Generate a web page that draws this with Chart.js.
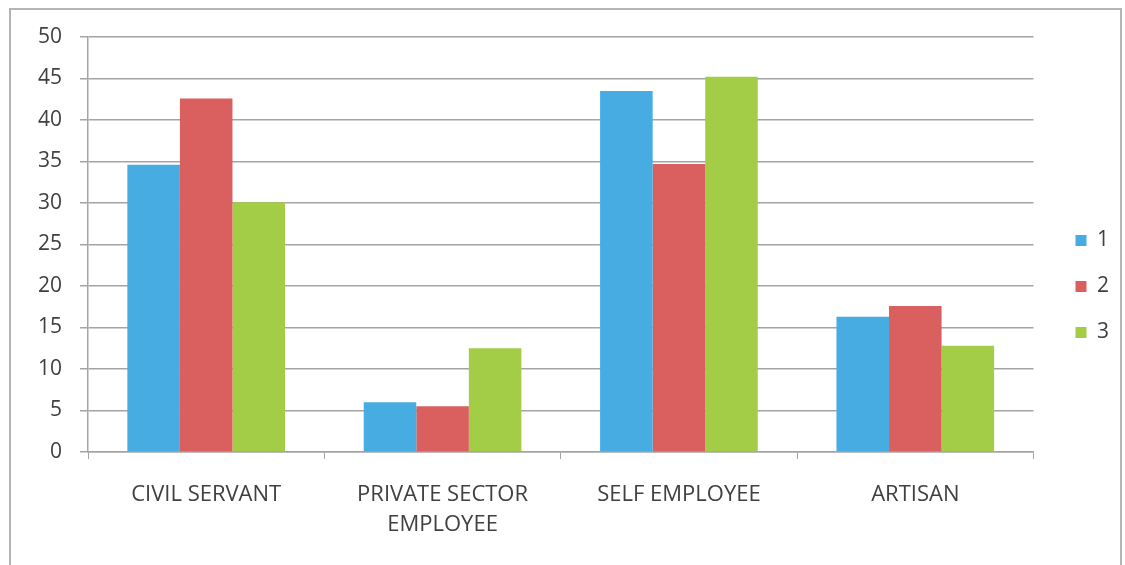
<!DOCTYPE html>
<html>
<head>
<meta charset="utf-8">
<script src="https://cdn.jsdelivr.net/npm/chart.js@4"></script>
<style>
  html, body { margin: 0; padding: 0; background: #ffffff; }
  #wrap { position: relative; width: 1125px; height: 565px; overflow: hidden; }
  #frame {
    position: absolute; left: 9px; top: 8px; width: 1113px; height: 620px;
    border: 2px solid #b4b4b4; box-sizing: border-box;
  }
  #chart { position: absolute; left: 0; top: 0; }
</style>
</head>
<body>
<div id="wrap">
  <div id="frame"></div>
  <canvas id="chart" width="1125" height="565"></canvas>
</div>
<script>
/* occupation groups vs. three survey rounds */
var categories = [
  'CIVIL SERVANT',
  ['PRIVATE SECTOR', 'EMPLOYEE'],
  'SELF EMPLOYEE',
  'ARTISAN'
];
var series1 = [34.6, 6.0, 43.5, 16.3];
var series2 = [42.6, 5.5, 34.7, 17.6];
var series3 = [30.1, 12.5, 45.2, 12.8];
var seriesNames = ['1', '2', '3'];
var yTicks = [0, 5, 10, 15, 20, 25, 30, 35, 40, 45, 50];

var colors = ['#47ace2', '#d9605e', '#a3cd46'];
var textColor = '#404040';
var gridColor = '#a4a4a4';
var fontFamily = '"Open Sans", "Liberation Sans", sans-serif';

function makeDataset(i, values) {
  return {
    label: seriesNames[i],
    data: values,
    backgroundColor: colors[i],
    borderWidth: 0,
    categoryPercentage: 0.667,
    barPercentage: 1.0
  };
}

new Chart(document.getElementById('chart'), {
  type: 'bar',
  data: {
    labels: categories,
    datasets: [
      makeDataset(0, series1),
      makeDataset(1, series2),
      makeDataset(2, series3)
    ]
  },
  options: {
    responsive: false,
    animation: false,
    layout: { padding: { left: 10, top: 37, right: 6, bottom: 29 } },
    plugins: {
      tooltip: { enabled: false },
      legend: {
        position: 'right',
        labels: {
          color: textColor,
          font: { family: fontFamily, size: 21 },
          boxWidth: 11,
          boxHeight: 11,
          padding: 25
        }
      }
    },
    scales: {
      x: {
        afterFit: function (scale) { scale.height = 84; },
        grid: {
          offset: true,
          drawOnChartArea: false,
          color: gridColor,
          tickLength: 7
        },
        border: { display: true, color: gridColor, width: 1.5 },
        ticks: {
          color: textColor,
          font: { family: fontFamily, size: 22, lineHeight: 1.4 },
          padding: 20,
          maxRotation: 0
        }
      },
      y: {
        min: 0,
        max: 50,
        afterFit: function (scale) { scale.width = 78; },
        afterBuildTicks: function (scale) {
          scale.ticks = yTicks.map(function (v) { return { value: v }; });
        },
        grid: { color: gridColor, lineWidth: 1.5, tickLength: 8 },
        border: { display: true, color: gridColor, width: 1.5 },
        ticks: {
          color: textColor,
          font: { family: fontFamily, size: 21 },
          padding: 18
        }
      },
      // empty strip between the plot and the legend
      gap: {
        type: 'linear',
        position: 'right',
        afterFit: function (scale) { scale.width = 17; },
        grid: { display: false },
        border: { display: false },
        ticks: { display: false }
      }
    }
  }
});
</script>
</body>
</html>
